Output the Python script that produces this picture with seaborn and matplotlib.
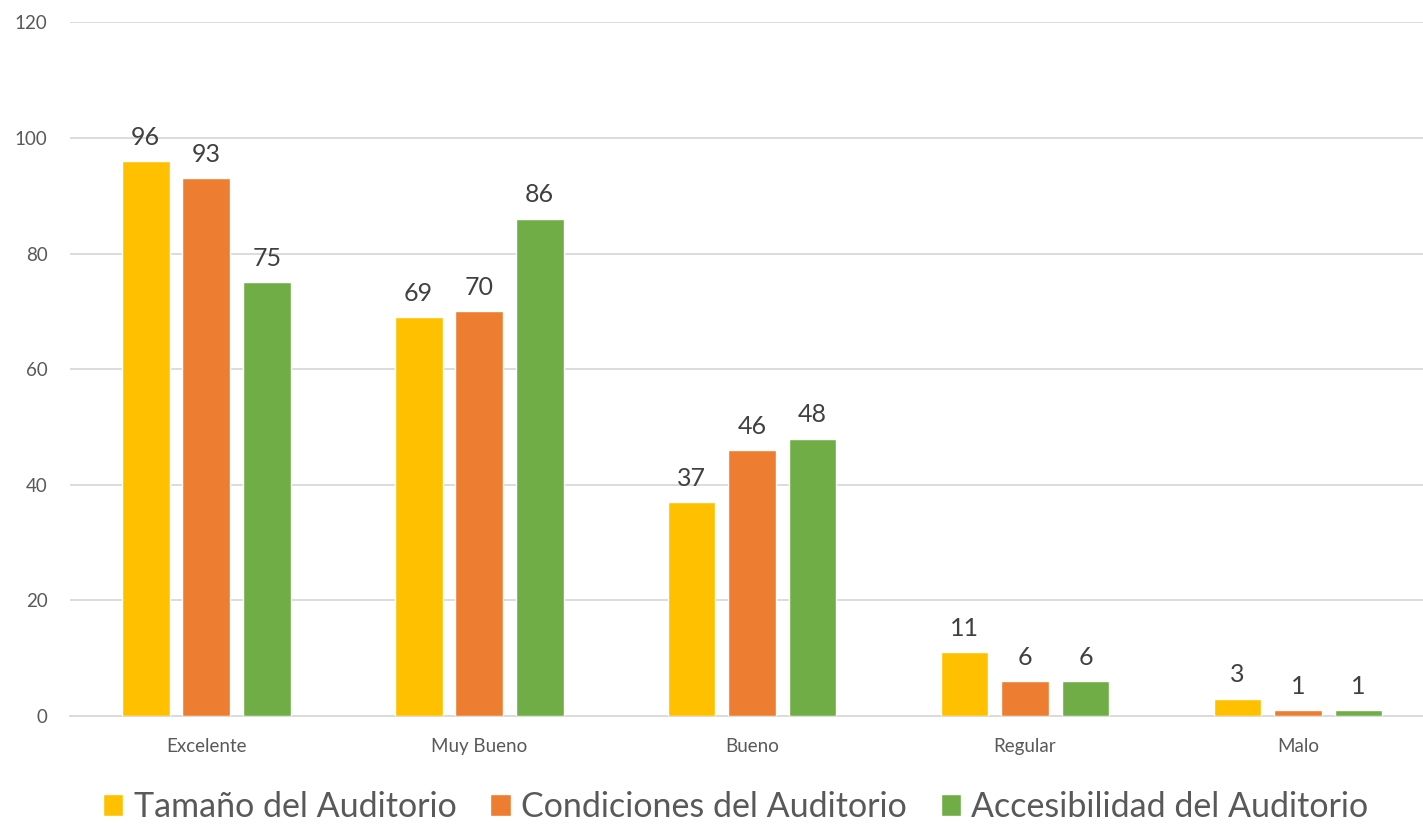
import pandas as pd
import matplotlib.pyplot as plt
import seaborn as sns
from matplotlib.patches import Patch

categorias = ['Excelente', 'Muy Bueno', 'Bueno', 'Regular', 'Malo']
series = ['Tamaño del Auditorio', 'Condiciones del Auditorio', 'Accesibilidad del Auditorio']
tamano = [96, 69, 37, 11, 3]
condiciones = [93, 70, 46, 6, 1]
accesibilidad = [75, 86, 48, 6, 1]
colores = ['#FFC000', '#ED7D31', '#70AD47']

df = pd.DataFrame({
    'Categoria': categorias * 3,
    'Serie': [series[0]] * 5 + [series[1]] * 5 + [series[2]] * 5,
    'Valor': tamano + condiciones + accesibilidad,
})

sns.set_style('white')
plt.rcParams['font.family'] = ['Lato', 'DejaVu Sans']

fig = plt.figure(figsize=(14.23, 8.24), dpi=100)
ax = fig.add_axes([0.049, 0.131, 0.951, 0.842])

sns.barplot(data=df, x='Categoria', y='Valor', hue='Serie', order=categorias,
            hue_order=series, palette=colores, width=0.665, gap=0.21,
            saturation=1, legend=False, ax=ax, zorder=3)

for cont in ax.containers:
    ax.bar_label(cont, padding=9, fontsize=18, color='#404040')

ax.set_ylim(0, 120)
ax.set_xlim(-0.5, 4.458)
ax.set_yticks(range(0, 121, 20))
ax.yaxis.grid(True, color='#D9D9D9', linewidth=1.3, zorder=0)
ax.xaxis.grid(False)
for s in ['top', 'right', 'left']:
    ax.spines[s].set_visible(False)
ax.spines['bottom'].set_color('#D9D9D9')
ax.spines['bottom'].set_linewidth(1.3)
ax.tick_params(axis='both', length=0, labelsize=13.5, labelcolor='#595959')
ax.tick_params(axis='x', pad=16)
ax.tick_params(axis='y', pad=16)
ax.set_xlabel('')
ax.set_ylabel('')

handles = [Patch(facecolor=c, label=s) for c, s in zip(colores, series)]
fig.legend(handles=handles, loc='center', bbox_to_anchor=(0.517, 0.021), ncol=3,
           frameon=False, fontsize=24.5, labelcolor='#595959', handlelength=0.6,
           handleheight=0.6, handletextpad=0.3, columnspacing=1.0)

fig.savefig('out.png', dpi=100)
